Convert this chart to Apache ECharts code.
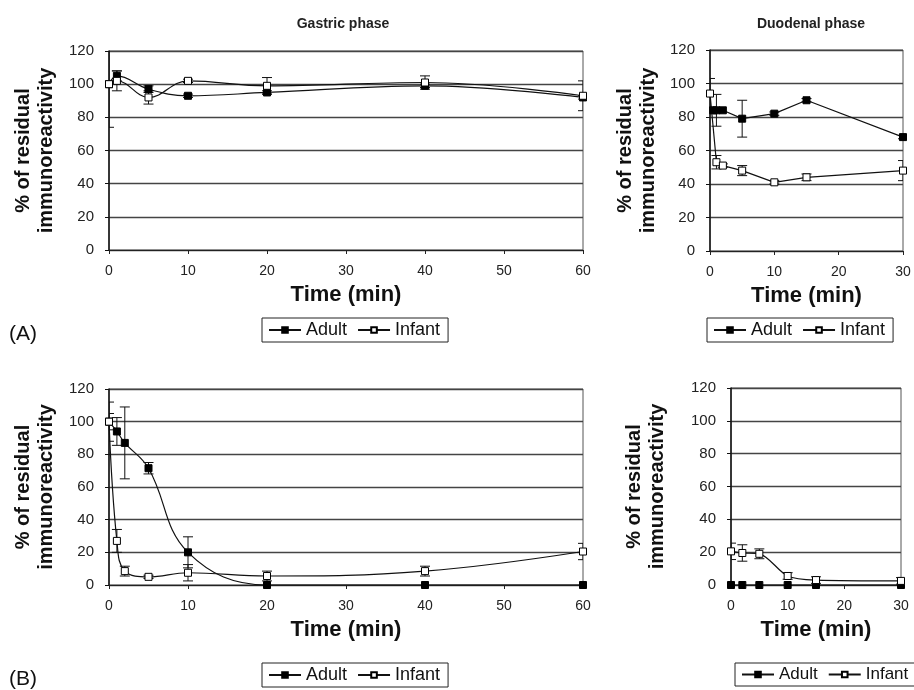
<!DOCTYPE html>
<html><head><meta charset="utf-8">
<script src="https://cdn.jsdelivr.net/npm/echarts@6/dist/echarts.min.js"></script>
<style>html,body{margin:0;padding:0;background:#fff}#c{width:914px;height:690px}</style>
</head><body><div id="c"></div>
<script>
// ---- data ----
const seriesNames = ['Adult', 'Infant'];
const yTicks = [0, 20, 40, 60, 80, 100, 120];

// (A) Gastric phase
const gastA_time = [0, 1, 5, 10, 20, 40, 60];
const gastA_adult = [100, 105, 97, 93, 95, 99, 92];
const gastA_adultErr = [26, 3, 2, 1, 1, 1, 1];
const gastA_infant = [100, 102, 92, 102, 99, 101, 93];
const gastA_infantErr = [0, 6, 4, 1, 5, 4, 9];

// (A) Duodenal phase
const duoA_adultTime = [0.5, 1, 2, 5, 10, 15, 30];
const duoA_adult = [84, 84, 84, 79, 82, 90, 68];
const duoA_adultErr = [0, 9.5, 0, 11, 1, 1, 1];
const duoA_infantTime = [0, 1, 2, 5, 10, 15, 30];
const duoA_infant = [94, 53, 51, 48, 41, 44, 48];
const duoA_infantErr = [9, 4, 1, 3, 1, 2, 6];

// (B) Gastric phase
const gastB_time = [0, 1, 2, 5, 10, 20, 40, 60];
const gastB_adult = [100, 94, 87, 71.5, 20, 0, 0, 0];
const gastB_adultErr = [12, 8.5, 22, 3.5, 9.5, 0, 0, 0];
const gastB_infant = [100, 27, 8.5, 5, 7.5, 5.5, 8.5, 20.5];
const gastB_infantErr = [5, 7, 3, 1, 5, 3, 3, 5];

// (B) Duodenal phase
const duoB_time = [0, 2, 5, 10, 15, 30];
const duoB_adult = [0, 0, 0, 0, 0, 0];
const duoB_adultErr = [0, 0, 0, 0, 0, 0];
const duoB_infant = [20.5, 19.5, 19, 5.5, 3, 2.5];
const duoB_infantErr = [5, 5, 3, 2, 2, 2];

// ---- chart ----
const FONT = '"Liberation Sans", Arial, sans-serif';
const chart = echarts.init(document.getElementById('c'), null, {renderer: 'canvas'});

const grids = [
  {left: 109, top: 51, width: 474, height: 199},
  {left: 710, top: 50, width: 193, height: 201},
  {left: 109, top: 389, width: 474, height: 196},
  {left: 731, top: 388, width: 170, height: 197}
].map(g => Object.assign({show: true, borderColor: '#555', borderWidth: 1, backgroundColor: 'transparent', containLabel: false}, g));

function xAx(gi, max) {
  return {
    type: 'value', gridIndex: gi, min: 0, max: max, interval: 10,
    name: 'Time (min)', nameLocation: 'middle', nameGap: 34,
    nameTextStyle: {fontFamily: FONT, fontWeight: 'bold', fontSize: 22, color: '#111'},
    axisLine: {show: true, onZero: false, lineStyle: {color: '#222', width: 1.2}},
    axisTick: {show: true, inside: false, length: 4, lineStyle: {color: '#222'}},
    axisLabel: {fontFamily: FONT, fontSize: 14, color: '#222', margin: 14},
    splitLine: {show: false}
  };
}
function yAx(gi, gap) {
  return {
    type: 'value', gridIndex: gi, min: 0, max: 120, interval: 20,
    name: '% of residual\nimmunoreactivity', nameLocation: 'middle', nameGap: gap, nameRotate: 90,
    nameTextStyle: {fontFamily: FONT, fontWeight: 'bold', fontSize: 20, color: '#111', lineHeight: 23},
    axisLine: {show: true, lineStyle: {color: '#111', width: 1.5}},
    axisTick: {show: true, inside: false, length: 4, lineStyle: {color: '#111'}},
    axisLabel: {fontFamily: FONT, fontSize: 15, color: '#222', margin: 15,
      formatter: v => yTicks.includes(v) ? String(v) : ''},
    splitLine: {show: true, lineStyle: {color: '#444', width: 1.3}}
  };
}

function lineSeries(name, gi, xs, ys, smooth) {
  const adult = name === 'Adult';
  return {
    type: 'line', name: name, xAxisIndex: gi, yAxisIndex: gi,
    data: xs.map((x, i) => [x, ys[i]]),
    smooth: smooth, symbol: 'rect', symbolSize: 7, z: 5, clip: true,
    lineStyle: {color: '#111', width: 1.2},
    itemStyle: adult ? {color: '#000', borderColor: '#000', borderWidth: 1}
                     : {color: '#fff', borderColor: '#000', borderWidth: 1},
    emphasis: {disabled: true}, animation: false
  };
}
function errSeries(name, gi, xs, ys, errs) {
  const data = [];
  xs.forEach((x, i) => { if (errs[i] > 0) data.push([x, ys[i] - errs[i], ys[i] + errs[i]]); });
  return {
    type: 'custom', name: name + ' err', xAxisIndex: gi, yAxisIndex: gi, z: 3, clip: true,
    data: data, silent: true, animation: false,
    renderItem: function (params, api) {
      const x = api.value(0);
      const p1 = api.coord([x, api.value(1)]);
      const p2 = api.coord([x, api.value(2)]);
      const w = 5;
      const st = {stroke: '#111', lineWidth: 1};
      return {type: 'group', children: [
        {type: 'line', shape: {x1: p1[0], y1: p1[1], x2: p2[0], y2: p2[1]}, style: st},
        {type: 'line', shape: {x1: p1[0] - w, y1: p1[1], x2: p1[0] + w, y2: p1[1]}, style: st},
        {type: 'line', shape: {x1: p2[0] - w, y1: p2[1], x2: p2[0] + w, y2: p2[1]}, style: st}
      ]};
    }
  };
}

function legend(left, top, fs) {
  return {
    data: seriesNames, left: left, top: top, width: 400, orient: 'horizontal',
    itemWidth: 32, itemHeight: 7, itemGap: 10, padding: [3, 8, 3, 6],
    borderColor: '#222', borderWidth: 1, selectedMode: false,
    textStyle: {fontFamily: FONT, fontSize: fs, color: '#111', padding: [0, 0, 0, 0]}
  };
}

const option = {
  backgroundColor: '#fff',
  animation: false,
  title: [
    {text: 'Gastric phase', left: 338, top: 12, textAlign: 'center',
      textStyle: {fontFamily: FONT, fontWeight: 'bold', fontSize: 14, color: '#222'}},
    {text: 'Duodenal phase', left: 806, top: 12, textAlign: 'center',
      textStyle: {fontFamily: FONT, fontWeight: 'bold', fontSize: 14, color: '#222'}},
    {text: '(A)', left: 4, top: 319, textStyle: {fontFamily: FONT, fontWeight: 'normal', fontSize: 21, color: '#111'}},
    {text: '(B)', left: 4, top: 664, textStyle: {fontFamily: FONT, fontWeight: 'normal', fontSize: 21, color: '#111'}}
  ],
  legend: [
    legend(262, 318, 18),
    legend(707, 318, 18),
    legend(262, 663, 18),
    legend(735, 663, 17)
  ],
  grid: grids,
  xAxis: [xAx(0, 60), xAx(1, 30), xAx(2, 60), xAx(3, 30)],
  yAxis: [yAx(0, 50), yAx(1, 50), yAx(2, 50), yAx(3, 62)],
  series: [
    errSeries('Adult', 0, gastA_time, gastA_adult, gastA_adultErr),
    errSeries('Infant', 0, gastA_time, gastA_infant, gastA_infantErr),
    lineSeries('Adult', 0, gastA_time, gastA_adult, 0.4),
    lineSeries('Infant', 0, gastA_time, gastA_infant, 0.4),

    errSeries('Adult', 1, duoA_adultTime, duoA_adult, duoA_adultErr),
    errSeries('Infant', 1, duoA_infantTime, duoA_infant, duoA_infantErr),
    lineSeries('Adult', 1, duoA_adultTime, duoA_adult, false),
    lineSeries('Infant', 1, duoA_infantTime, duoA_infant, false),

    errSeries('Adult', 2, gastB_time, gastB_adult, gastB_adultErr),
    errSeries('Infant', 2, gastB_time, gastB_infant, gastB_infantErr),
    lineSeries('Adult', 2, gastB_time, gastB_adult, 0.4),
    lineSeries('Infant', 2, gastB_time, gastB_infant, 0.4),

    errSeries('Adult', 3, duoB_time, duoB_adult, duoB_adultErr),
    errSeries('Infant', 3, duoB_time, duoB_infant, duoB_infantErr),
    lineSeries('Adult', 3, duoB_time, duoB_adult, 0.3),
    lineSeries('Infant', 3, duoB_time, duoB_infant, 0.3)
  ]
};
chart.setOption(option);
</script></body></html>
